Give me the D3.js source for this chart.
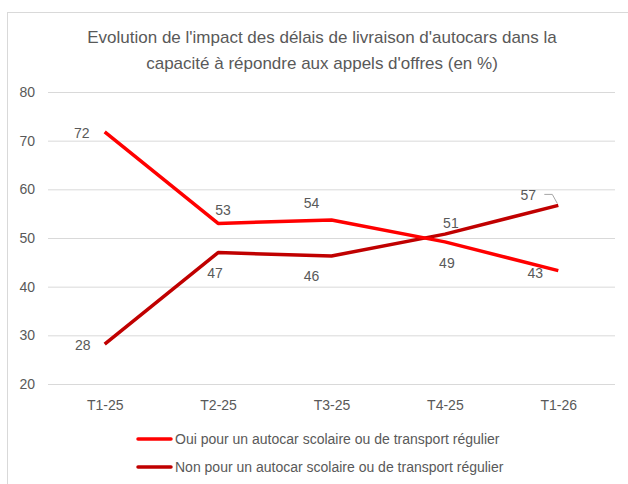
<!DOCTYPE html>
<html>
<head>
<meta charset="utf-8">
<script src="https://cdn.jsdelivr.net/npm/d3@7"></script>
<style>
  body { margin: 0; background: #fff; }
  svg { display: block; }
  text { font-family: "Liberation Sans", Arial, sans-serif; fill: #595959; }
</style>
</head>
<body>
<svg id="chart" width="628" height="484"></svg>
<script>
// DATA
let categories = ['T1-25', 'T2-25', 'T3-25', 'T4-25', 'T1-26'];
let ouiValues = [71.8, 53.0, 53.7, 49.2, 43.3];
let nonValues = [28.2, 47.0, 46.3, 50.8, 56.7];
let yTicks = [20, 30, 40, 50, 60, 70, 80];
let seriesNames = ['Oui pour un autocar scolaire ou de transport régulier',
                   'Non pour un autocar scolaire ou de transport régulier'];
let seriesColors = ['#ff0000', '#c00000'];

// label offsets (dx, dy) from each point, like moved Excel labels
let ouiLabelOffsets = [[-23, 1], [5, -13], [-20, -17], [2, 21], [-23, 2]];
let nonLabelOffsets = [[-22, 1], [-3, 20], [-20, 20], [6, -11], [-30, -10]];

let svg = d3.select('#chart');

// chart frame
svg.append('rect')
    .attr('x', 7.5).attr('y', 12.5)
    .attr('width', 640).attr('height', 490)
    .attr('fill', 'none')
    .attr('stroke', '#d9d9d9');

// title
let title = svg.append('text')
    .attr('text-anchor', 'middle')
    .attr('font-size', 17)
    .attr('x', 322);
title.append('tspan').attr('x', 322).attr('y', 43)
    .text("Evolution de l'impact des délais de livraison d'autocars dans la");
title.append('tspan').attr('x', 322).attr('y', 69)
    .text("capacité à répondre aux appels d'offres (en %)");

let x = d3.scalePoint()
    .domain(categories)
    .range([48, 615])
    .padding(0.5);

let y = d3.scaleLinear()
    .domain([20, 80])
    .range([384, 92]);

// gridlines + y labels
let yAxis = d3.axisLeft(y)
    .tickValues(yTicks)
    .tickSize(-(615 - 48))
    .tickPadding(13);

let gy = svg.append('g')
    .attr('transform', 'translate(48,0)')
    .call(yAxis);
gy.select('.domain').remove();
gy.selectAll('line').attr('stroke', '#d9d9d9');
gy.selectAll('text').attr('font-size', 14).attr('fill', '#595959')
    .style('font-family', '"Liberation Sans", Arial, sans-serif');

// x labels
let xAxis = d3.axisBottom(x).tickSize(0).tickPadding(16);
let gx = svg.append('g')
    .attr('transform', 'translate(0,384)')
    .call(xAxis);
gx.select('.domain').remove();
gx.selectAll('text').attr('font-size', 14).attr('fill', '#595959')
    .style('font-family', '"Liberation Sans", Arial, sans-serif');

let line = d3.line()
    .x(function(d, i){ return x(categories[i]); })
    .y(function(d){ return y(d); });

let allSeries = [ouiValues, nonValues];
let allOffsets = [ouiLabelOffsets, nonLabelOffsets];

// draw "Non" first so "Oui" sits on top like the original
[1, 0].forEach(function(s){
    svg.append('path')
        .datum(allSeries[s])
        .attr('fill', 'none')
        .attr('stroke', seriesColors[s])
        .attr('stroke-width', 3.5)
        .attr('stroke-linejoin', 'round')
        .attr('d', line);
});

// data labels
allSeries.forEach(function(vals, s){
    svg.append('g').selectAll('text')
        .data(vals)
        .enter()
        .append('text')
        .attr('text-anchor', 'middle')
        .attr('dominant-baseline', 'central')
        .attr('font-size', 14)
        .attr('x', function(d, i){ return x(categories[i]) + allOffsets[s][i][0]; })
        .attr('y', function(d, i){ return y(d) + allOffsets[s][i][1]; })
        .text(function(d){ return Math.round(d); });
});

// leader line for the last "Non" label
let lastX = x(categories[4]);
let lastY = y(nonValues[4]);
svg.append('path')
    .attr('fill', 'none')
    .attr('stroke', '#a6a6a6')
    .attr('stroke-width', 1)
    .attr('d', `M${lastX - 14},${lastY - 11} L${lastX - 6},${lastY - 11} L${lastX - 1},${lastY - 2}`);

// legend
let legend = svg.append('g');
seriesNames.forEach(function(name, i){
    let ly = 439 + i * 28;
    legend.append('line')
        .attr('x1', 138).attr('x2', 171)
        .attr('y1', ly).attr('y2', ly)
        .attr('stroke', seriesColors[i])
        .attr('stroke-width', 3.5)
        .attr('stroke-linecap', 'round');
    legend.append('text')
        .attr('x', 175).attr('y', ly)
        .attr('dominant-baseline', 'central')
        .attr('font-size', 14)
        .text(name);
});
</script>
</body>
</html>
